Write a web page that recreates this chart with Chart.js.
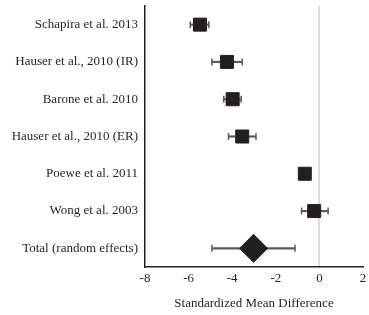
<!DOCTYPE html>
<html>
<head>
<meta charset="utf-8">
<script src="https://cdn.jsdelivr.net/npm/chart.js@4/dist/chart.umd.min.js"></script>
<style>
  html, body { margin: 0; padding: 0; background: #fff; }
  #wrap { width: 369px; height: 315px; }
</style>
</head>
<body>
<div id="wrap"><canvas id="forest"></canvas></div>
<script>
// forest plot data
const studies = [
  'Schapira et al. 2013',
  'Hauser et al., 2010 (IR)',
  'Barone et al. 2010',
  'Hauser et al., 2010 (ER)',
  'Poewe et al. 2011',
  'Wong et al. 2003',
  'Total (random effects)'
];
const smd    = [-5.48, -4.24, -3.98, -3.54, -0.67, -0.24, -3.02];
const ciLow  = [-5.92, -4.93, -4.39, -4.17, -0.80, -0.82, -4.93];
const ciHigh = [-5.07, -3.54, -3.59, -2.91, -0.55,  0.40, -1.12];
const xTicks = [-8, -6, -4, -2, 0, 2];

const SERIF = '"Liberation Serif", "DejaVu Serif", serif';
const INK = '#231f20';
const WHISKER = '#5a5a5a';
const lastRow = studies.length - 1;

const points = studies.map((s, i) => ({ x: smd[i], y: s }));
const lowCaps = studies.map((s, i) => ({ x: ciLow[i], y: s }));
const highCaps = studies.map((s, i) => ({ x: ciHigh[i], y: s }));

new Chart(document.getElementById('forest'), {
  type: 'bar',
  data: {
    labels: studies,
    datasets: [
      {
        // estimates: squares for studies, diamond for the pooled total
        type: 'scatter',
        data: points,
        pointStyle: (ctx) => (ctx.dataIndex === lastRow ? 'rectRot' : 'rect'),
        pointRadius: (ctx) => (ctx.dataIndex === lastRow ? 14 : 9.2),
        backgroundColor: INK,
        borderColor: INK,
        borderWidth: 1,
      },
      {
        type: 'scatter',
        data: lowCaps,
        pointStyle: 'line',
        rotation: 90,
        pointRadius: 3.5,
        borderColor: WHISKER,
        borderWidth: 1.5,
      },
      {
        type: 'scatter',
        data: highCaps,
        pointStyle: 'line',
        rotation: 90,
        pointRadius: 3.5,
        borderColor: WHISKER,
        borderWidth: 1.5,
      },
      {
        // confidence interval as a thin floating bar
        data: ciLow.map((lo, i) => [lo, ciHigh[i]]),
        backgroundColor: WHISKER,
        barThickness: 1.5,
      },
    ],
  },
  options: {
    indexAxis: 'y',
    responsive: true,
    maintainAspectRatio: false,
    animation: false,
    layout: {
      autoPadding: false,
      padding: { top: 6, right: 6, bottom: 0, left: 0 },
    },
    plugins: {
      legend: { display: false },
      tooltip: { enabled: false },
    },
    scales: {
      x: {
        type: 'linear',
        min: -8,
        max: 2,
        afterBuildTicks: (scale) => {
          scale.ticks = xTicks.map((v) => ({ value: v }));
        },
        afterFit: (scale) => {
          scale.height = 48;
          scale.paddingLeft = 0;
          scale.paddingRight = 0;
        },
        ticks: {
          color: INK,
          padding: 4,
          font: { family: SERIF, size: 13 },
        },
        grid: {
          drawTicks: false,
          lineWidth: 2,
          color: (ctx) => (ctx.tick && ctx.tick.value === 0 ? '#dcdcdc' : 'rgba(0,0,0,0)'),
        },
        border: { color: INK, width: 1.5 },
        title: {
          display: true,
          text: 'Standardized Mean Difference',
          color: INK,
          font: { family: SERIF, size: 13 },
          padding: { top: 0, bottom: 4 },
        },
      },
      y: {
        type: 'category',
        afterFit: (scale) => {
          scale.width = 145;
          scale.paddingTop = 0;
          scale.paddingBottom = 0;
        },
        ticks: {
          color: INK,
          padding: 7,
          font: { family: SERIF, size: 13 },
        },
        grid: { display: false, drawTicks: false },
        border: { color: INK, width: 1.5 },
      },
    },
  },
});
</script>
</body>
</html>
